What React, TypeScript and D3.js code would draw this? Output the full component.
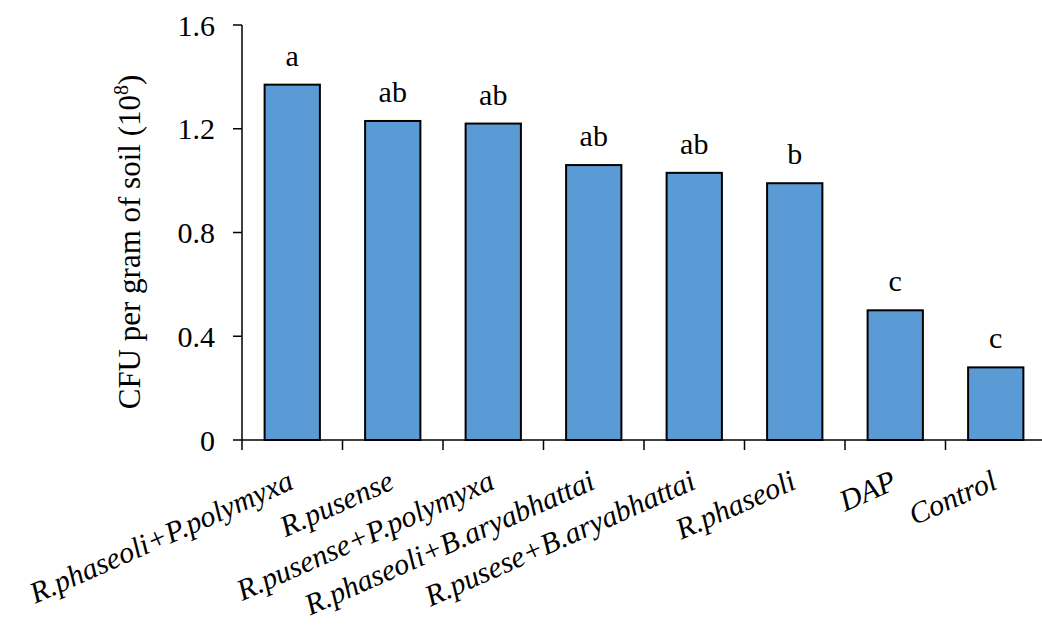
import React, { useEffect, useState } from "react";
import * as d3 from "d3";

const categories = [
  "R.phaseoli+P.polymyxa",
  "R.pusense",
  "R.pusense+P.polymyxa",
  "R.phaseoli+B.aryabhattai",
  "R.pusese+B.aryabhattai",
  "R.phaseoli",
  "DAP",
  "Control",
];
const values = [1.37, 1.23, 1.22, 1.06, 1.03, 0.99, 0.5, 0.28];
const letters = ["a", "ab", "ab", "ab", "ab", "b", "c", "c"];
const yTicks = [0, 0.4, 0.8, 1.2, 1.6];
const yTickLabels = ["0", "0.4", "0.8", "1.2", "1.6"];

const W = 1042;
const H = 625;
const up = { fontFamily: '"Liberation Serif"' } as React.CSSProperties;

export default function App() {
  const [gen, setGen] = useState(0);
  useEffect(() => {
    const t1 = setTimeout(() => setGen(1), 30);
    const t2 = setTimeout(() => setGen(2), 200);
    return () => {
      clearTimeout(t1);
      clearTimeout(t2);
    };
  }, []);

  const x0 = 242;
  const x1 = 242 + 8 * 100.5;
  const x = d3.scaleBand<string>().domain(categories).range([x0, x1]).paddingInner(0.45).paddingOuter(0.225);
  const step = x.step();
  const y = d3.scaleLinear().domain([0, 1.6]).range([440, 25]);

  return (
    <div style={{ position: "absolute", left: 0, top: 0 }}>
      <svg key={gen} width={W} height={H} style={{ display: "block" }}>
        <rect x={0} y={0} width={W} height={H} fill="#fff" />
        {categories.map((c, i) => (
          <rect
            key={c}
            x={x(c)!}
            y={y(values[i])}
            width={x.bandwidth()}
            height={y(0) - y(values[i])}
            fill="#5B9BD5"
            stroke="#000"
            strokeWidth={2}
          />
        ))}
        {categories.map((c, i) => (
          <text
            key={"l" + c}
            x={x(c)! + x.bandwidth() / 2}
            y={y(values[i]) - 19}
            textAnchor="middle"
            fontSize={30}
            style={up}
          >
            {letters[i]}
          </text>
        ))}
        <line x1={x0} x2={x0} y1={y(1.6)} y2={y(0)} stroke="#000" strokeWidth={1.5} />
        {yTicks.map((t, i) => (
          <g key={"yt" + t}>
            <line x1={x0 - 9} x2={x0} y1={y(t)} y2={y(t)} stroke="#000" strokeWidth={1.5} />
            <text x={x0 - 27} y={y(t)} dy="0.35em" textAnchor="end" fontSize={30} style={up}>
              {yTickLabels[i]}
            </text>
          </g>
        ))}
        <line x1={x0} x2={x1} y1={y(0)} y2={y(0)} stroke="#000" strokeWidth={1.5} />
        {d3.range(categories.length + 1).map((k) => (
          <line
            key={"xt" + k}
            x1={x0 + k * step}
            x2={x0 + k * step}
            y1={y(0)}
            y2={y(0) + 10}
            stroke="#000"
            strokeWidth={1.5}
          />
        ))}
        {categories.map((c) => (
          <text
            key={"xl" + c}
            transform={`translate(${x(c)! + x.bandwidth() / 2 + 3},488) rotate(-24)`}
            textAnchor="end"
            fontSize={30}
            fontStyle="italic"
            style={up}
          >
            {c}
          </text>
        ))}
        <text transform="translate(140,242) rotate(-90)" textAnchor="middle" fontSize={31} style={up}>
          CFU per gram of soil (10
          <tspan fontSize={20} dy={-12}>8</tspan>
          <tspan dy={12}>)</tspan>
        </text>
      </svg>
    </div>
  );
}
